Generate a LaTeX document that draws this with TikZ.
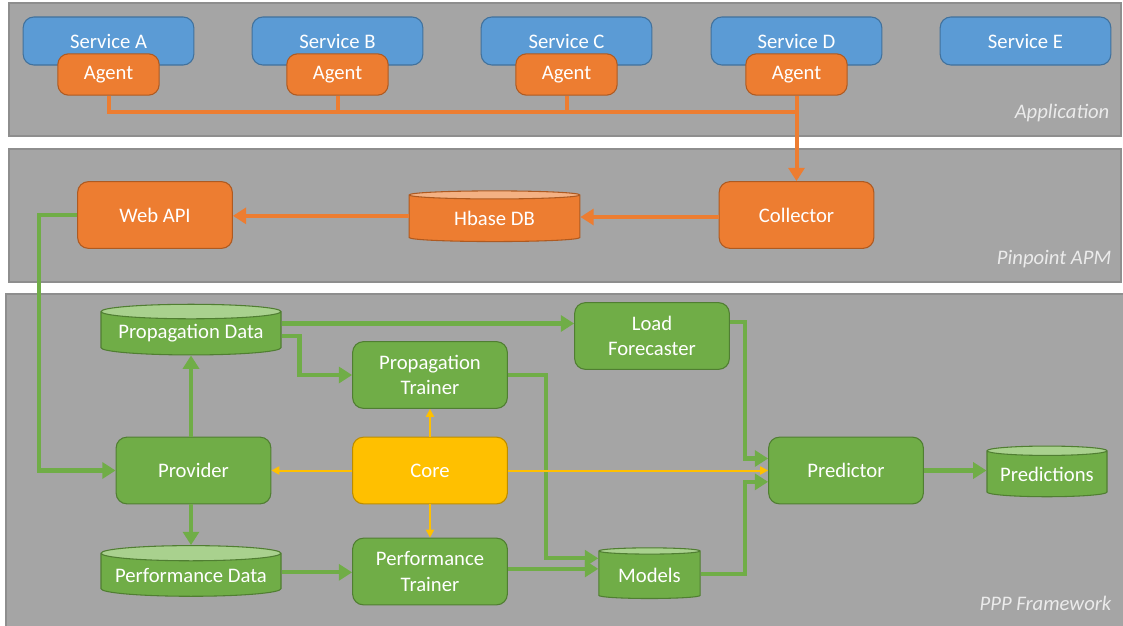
\documentclass[tikz,border=0pt]{standalone}
\usepackage{fontspec}
\setmainfont{Carlito}
\usetikzlibrary{arrows.meta,shapes.geometric,calc}
\definecolor{panelgray}{HTML}{A5A5A5}
\definecolor{paneledge}{HTML}{8E8E8E}
\definecolor{svcblue}{HTML}{5B9BD5}
\definecolor{svcedge}{HTML}{41719C}
\definecolor{apmorange}{HTML}{ED7D31}
\definecolor{apmedge}{HTML}{AE5A21}
\definecolor{apmtop}{HTML}{F4B183}
\definecolor{pppgreen}{HTML}{70AD47}
\definecolor{pppedge}{HTML}{507E32}
\definecolor{ppptop}{HTML}{A9D18E}
\definecolor{coreyellow}{HTML}{FFC000}
\definecolor{coreedge}{HTML}{BC8C00}
\tikzstyle{panel}=[fill=panelgray,draw=paneledge,line width=1pt]
\tikzstyle{layerlabel}=[anchor=east,text=white!92!black,font=\itshape\fontsize{15.5}{19}\selectfont]
\tikzstyle{box}=[rectangle,rounded corners=8pt,line width=0.8pt,text=white,align=center,inner sep=0pt]
\tikzstyle{service}=[box,fill=svcblue,draw=svcedge,minimum width=128pt,minimum height=36pt]
\tikzstyle{agent}=[box,fill=apmorange,draw=apmedge,minimum width=76pt,minimum height=31pt]
\tikzstyle{apmbox}=[box,fill=apmorange,draw=apmedge,minimum width=116pt,minimum height=50pt]
\tikzstyle{pppbox}=[box,fill=pppgreen,draw=pppedge,minimum width=116pt,minimum height=50pt]
\tikzstyle{corebox}=[box,fill=coreyellow,draw=coreedge,minimum width=116pt,minimum height=50pt]
\tikzstyle{store}=[cylinder,shape border rotate=90,aspect=0.1,cylinder uses custom fill,line width=0.8pt,text=white,inner sep=0pt]
\tikzstyle{apmstore}=[store,draw=apmedge,cylinder body fill=apmorange,cylinder end fill=apmtop]
\tikzstyle{pppstore}=[store,draw=pppedge,cylinder body fill=pppgreen,cylinder end fill=ppptop]
\tikzstyle{apmflow}=[draw=apmorange,line width=3pt,-{Triangle[length=10pt,width=12pt]}]
\tikzstyle{pppflow}=[draw=pppgreen,line width=3.2pt,-{Triangle[length=10pt,width=12pt]}]
\tikzstyle{coreflow}=[draw=coreyellow,line width=1.5pt,-{Triangle[length=6pt,width=6pt]}]

\begin{document}
\begin{tikzpicture}[x=0.75pt,y=-0.75pt,font=\fontsize{15.5}{19}\selectfont]
    \useasboundingbox (0,0) rectangle (1123,625);
    % the three layers
    \draw[panel] (9,3) rectangle (1121,136);
    \draw[panel] (9,149) rectangle (1121,282);
    \draw[panel] (6,294) rectangle (1126,630);
    \node[layerlabel] (applabel) at (1114,113) {Application};
    \node[layerlabel] (apmlabel) at (1116,259) {Pinpoint APM};
    \node[layerlabel] (ppplabel) at (1116,603) {PPP Framework};

    % services with their agents
    \foreach \pos/\name in {108.5/A, 337.5/B, 566.5/C, 796.5/D, 1025.5/E}
        \node[service] (svc\name) at (\pos,41) {Service \name};
    \foreach \pos/\name in {108.5/A, 337.5/B, 566.5/C, 796.5/D}
        \node[agent] (agent\name) at (\pos,74.5) {Agent};

    % Pinpoint APM
    \node[apmbox] (collector) at (796.5,215) {Collector};
    \node[apmstore,minimum width=128pt,minimum height=38pt] (hbase) at (494.5,218.5) {Hbase DB};
    \node[apmbox] (webapi) at (155,215) {Web API};

    % PPP framework
    \node[pppstore,minimum width=135pt,minimum height=38pt] (propdata) at (191,333.5) {Propagation Data};
    \node[pppbox] (proptrainer) at (430,375) {Propagation\\Trainer};
    \node[pppbox] (loadfc) at (652,336) {Load\\Forecaster};
    \node[pppbox] (provider) at (193.5,470.5) {Provider};
    \node[corebox] (core) at (430,470.5) {Core};
    \node[pppbox] (predictor) at (846,470.5) {Predictor};
    \node[pppstore,minimum width=90pt,minimum height=38pt] (predictions) at (1047,474) {Predictions};
    \node[pppstore,minimum width=135pt,minimum height=38pt] (perfdata) at (191,575) {Performance Data};
    \node[pppbox] (perftrainer) at (430,571.5) {Performance\\Trainer};
    \node[pppstore,minimum width=76pt,minimum height=38pt] (models) at (649.5,575) {Models};

    % agents report to the collector
    \coordinate (bus) at (108.5,112);
    \foreach \name in {A,B,C}
        \draw[draw=apmorange,line width=3pt] (agent\name.south) -- (agent\name.south |- bus);
    \draw[draw=apmorange,line width=3pt,line join=miter] (agentA.south) |- (agentD.south |- bus);
    \draw[apmflow] (agentD.south) -- (collector.north);
    \draw[apmflow] ([yshift=-1.5pt]collector.west) -- ([yshift=-1.5pt]collector.west -| hbase.east);
    \draw[apmflow] ([yshift=2pt]hbase.west) -- ([yshift=2pt]hbase.west -| webapi.east);

    % data flow in the framework
    \draw[pppflow] (webapi.west) -- ++(-38,0) |- (provider.west);
    \draw[pppflow] (provider.north -| propdata.south) -- (propdata.south);
    \draw[pppflow] (provider.south -| perfdata.north) -- (perfdata.north);
    \draw[pppflow] ([yshift=7.5pt]propdata.east) -- ([yshift=7.5pt]propdata.east -| loadfc.west);
    \draw[pppflow] ([yshift=-2pt]propdata.east) -- ++(18,0) |- (proptrainer.west);
    \draw[pppflow] ([yshift=2pt]perfdata.east) -- ([yshift=2pt]perfdata.east -| perftrainer.west);
    \draw[pppflow] (proptrainer.east) -- ++(38,0) |- ([yshift=12.5pt]models.west);
    \draw[pppflow] ([yshift=2pt]perftrainer.east) -- ([yshift=2pt]perftrainer.east -| models.west);
    \draw[pppflow] ([yshift=10.5pt]loadfc.east) -- ++(15,0) |- ([yshift=9pt]predictor.west);
    \draw[pppflow] ([yshift=1pt]models.east) -- ++(44,0) |- ([yshift=-8.5pt]predictor.west);
    \draw[pppflow] (predictor.east) -- (predictor.east -| predictions.west);

    % core drives everything
    \draw[coreflow] (core.west) -- (provider.east);
    \draw[coreflow] (core.north) -- (proptrainer.south);
    \draw[coreflow] (core.south) -- (perftrainer.north);
    \draw[coreflow] (core.east) -- (predictor.west);
\end{tikzpicture}
\end{document}
